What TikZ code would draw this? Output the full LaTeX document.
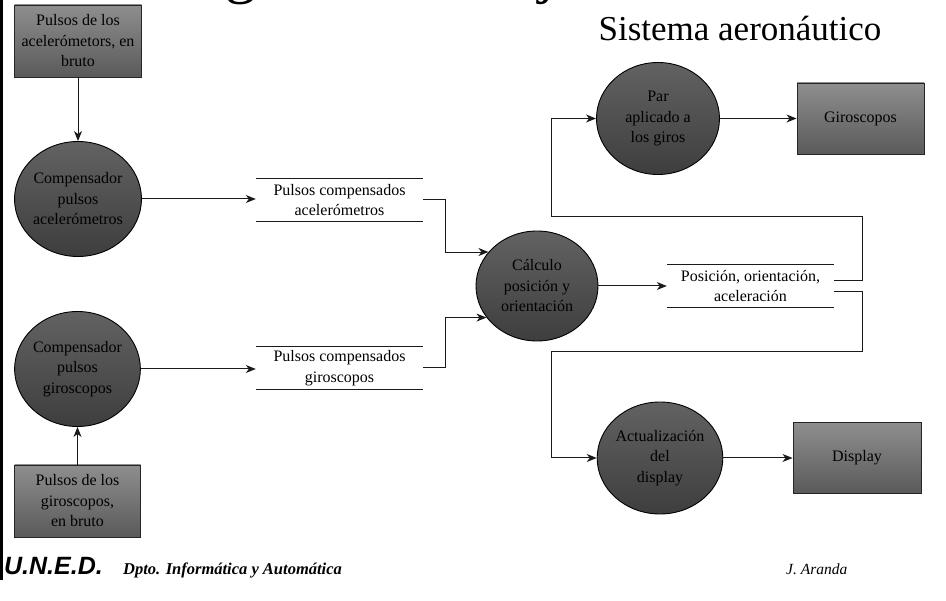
\documentclass[tikz,border=0pt]{standalone}
\usepackage{fontspec}
\setmainfont{Liberation Serif}
\newfontfamily\footsans{Liberation Sans}
\usetikzlibrary{shapes.geometric,arrows.meta}

\definecolor{boxtop}{HTML}{8E8E8E}
\definecolor{boxbot}{HTML}{5A5A5A}
\definecolor{proctop}{HTML}{626262}
\definecolor{procbot}{HTML}{3E3E3E}
\definecolor{wire}{HTML}{1A1A1A}

\tikzset{
  txt/.style={font=\fontsize{16}{20.5}\selectfont, align=center, text=black},
  extbox/.style={txt, rectangle, draw=black!85, line width=0.9pt,
    top color=boxtop, bottom color=boxbot, inner sep=0pt},
  proc/.style={txt, ellipse, draw=black, line width=0.9pt,
    top color=proctop, bottom color=procbot, inner sep=0pt},
  store/.style={txt, rectangle, inner sep=0pt, minimum width=167pt, minimum height=42pt},
  storeline/.style={draw=wire, line width=1pt},
  flow/.style={draw=wire, line width=1pt, -{Stealth[length=10pt,width=8pt,inset=3pt]}},
  link/.style={draw=wire, line width=1pt},
}

\begin{document}
\begin{tikzpicture}[x=1pt,y=-1pt]
\useasboundingbox (0,0) rectangle (946,601);

% page furniture
\fill[black] (0,0) rectangle (3,580);
\node[anchor=base west, inner sep=0pt, font=\fontsize{62}{70}\selectfont] (headline) at (135.5,-8.5) {Diagrama de flujo};
\node[anchor=base, inner sep=0pt, font=\fontsize{35}{40}\selectfont] (subtitle) at (740,41) {Sistema aeronáutico};

% external entities
\node[extbox, minimum width=127pt, minimum height=72pt] (rawacc) at (78,41) {Pulsos de los\\acelerómetors, en\\bruto};
\node[extbox, minimum width=126pt, minimum height=72pt] (rawgyr) at (77.5,501) {Pulsos de los\\giroscopos,\\en bruto};
\node[extbox, minimum width=127pt, minimum height=71pt] (gyros) at (860.5,118.5) {Giroscopos};
\node[extbox, minimum width=128pt, minimum height=71pt] (display) at (857,458) {Display};

% processes
\node[proc, minimum width=125pt, minimum height=115pt] (compacc) at (78,199) {Compensador\\pulsos\\acelerómetros};
\node[proc, minimum width=125pt, minimum height=115pt] (compgyr) at (77.5,369) {Compensador\\pulsos\\giroscopos};
\node[proc, minimum width=122pt, minimum height=110pt] (calc) at (537,286) {Cálculo\\posición y\\orientación};
\node[proc, minimum width=123pt, minimum height=112pt] (torque) at (658,118.5) {Par\\aplicado a\\los giros};
\node[proc, minimum width=123pt, minimum height=112pt] (update) at (660,458) {Actualización\\del\\display};

% data stores
\node[store] (accstore) at (339.5,200) {Pulsos compensados\\acelerómetros};
\node[store] (gyrstore) at (339.5,368) {Pulsos compensados\\giroscopos};
\node[store] (posstore) at (750.5,286) {Posición, orientación,\\aceleración};
\foreach \s in {accstore,gyrstore,posstore}{
  \draw[storeline] (\s.north west) -- (\s.north east);
  \draw[storeline] (\s.south west) -- (\s.south east);
}

% loop corners
\coordinate (upR) at (862,217);
\coordinate (upL) at (551,217);
\coordinate (dnR) at (862,352);
\coordinate (dnL) at (551,352);

% flows
\draw[flow] (rawacc.south) -- (compacc.north);
\draw[flow] (rawgyr.north) -- (compgyr.south);
\draw[flow] (compacc.east) -- (compacc.east -| accstore.west);
\draw[flow] (compgyr.east) -- (compgyr.east -| gyrstore.west);
\draw[flow] (accstore.east) -- ++(22,0) |- (calc.145);
\draw[flow] (gyrstore.east) -- ++(22,0) |- (calc.212);
\draw[flow] (calc.east) -- (posstore.west);
\draw[flow] ([yshift=5pt]posstore.east) -| (upR) -- (upL) |- (torque.west);
\draw[flow] ([yshift=-6pt]posstore.east) -| (dnR) -- (dnL) |- (update.west);
\draw[flow] (torque.east) -- (gyros.west);
\draw[flow] (update.east) -- (display.west);

% footer
\node[anchor=base west, inner sep=0pt, font=\footsans\bfseries\itshape\fontsize{25}{28}\selectfont] (uned) at (4,575) {U.N.E.D.};
\node[anchor=base west, inner sep=0pt, font=\bfseries\itshape\fontsize{16.5}{18}\selectfont] (dept) at (123,575) {Dpto. Informática y Automática};
\node[anchor=base west, inner sep=0pt, font=\itshape\fontsize{15.5}{18}\selectfont] (author) at (786,575) {J. Aranda};
\end{tikzpicture}
\end{document}
